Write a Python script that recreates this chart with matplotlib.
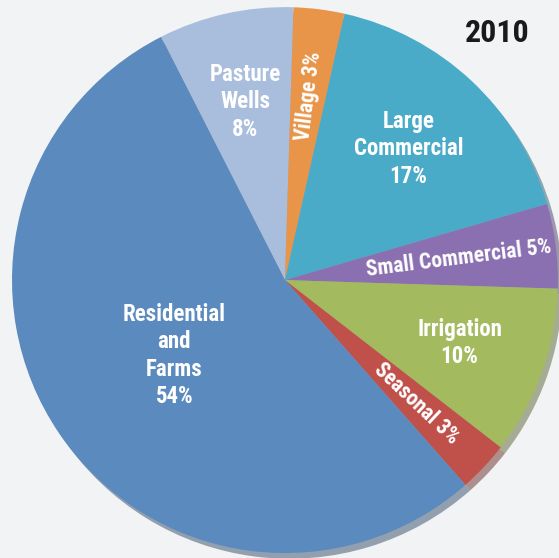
import numpy as np
import matplotlib
matplotlib.use('Agg')
import matplotlib.pyplot as plt
from matplotlib import font_manager

categories = ['Pasture\nWells', 'Village', 'Large\nCommercial', 'Small Commercial',
              'Irrigation', 'Seasonal', 'Residential\nand\nFarms']
shares = [8, 3, 17, 5, 10, 3, 54]
year = '2010'

colors = ['#a9bddc', '#e8954a', '#4aabc8', '#8a70b0', '#a3bb5e', '#c0504a', '#5b8abe']
# label placement: radius factor and whether the text follows the wedge
label_r = [0.67, 0.68, 0.66, 0.64, 0.68, 0.66, 0.49]
rotated = [False, True, False, True, False, True, False]

# look for an upright condensed / narrow bold face, else DejaVu
narrow = None
for f in font_manager.fontManager.ttflist:
    n = (f.name + ' ' + f.fname).lower()
    if ('narrow' in n or 'condensed' in n) and f.weight in (700, 'bold') \
            and f.style == 'normal' and 'italic' not in n:
        narrow = f.fname
        if 'liberation' in n:
            break
if narrow:
    fp = font_manager.FontProperties(fname=narrow)
else:
    fp = font_manager.FontProperties(family='DejaVu Sans', weight='bold', stretch='condensed')

fig = plt.figure(figsize=(5.59, 5.58), dpi=100, facecolor='#f1f3f4')
ax = fig.add_axes([0, 0, 1, 1])
ax.set_facecolor('#f1f3f4')

wedges, _ = ax.pie(shares, colors=colors, startangle=117, counterclock=False,
                   radius=1.0, wedgeprops=dict(linewidth=0),
                   shadow=dict(ox=0.012, oy=-0.015, shade=0.45))

for w, cat, val, r, rot in zip(wedges, categories, shares, label_r, rotated):
    mid = np.deg2rad((w.theta1 + w.theta2) / 2)
    x, y = r * np.cos(mid), r * np.sin(mid)
    if rot:
        ax.text(x, y, f'{cat} {val}%', ha='center', va='center',
                rotation=np.rad2deg(mid), rotation_mode='anchor',
                color='white', fontproperties=fp, fontsize=15.5)
    else:
        ax.text(x, y, f'{cat}\n{val}%', ha='center', va='center', color='white',
                fontproperties=fp, fontsize=16.5, linespacing=1.25)

ax.text(0.947, 0.968, year, transform=ax.transAxes, ha='right', va='top',
        fontproperties=fp, fontsize=23, color='#1a1a1a')

ax.set_xlim(-1.044, 1.004)
ax.set_ylim(-1.018, 1.026)
ax.set_aspect('equal')
ax.axis('off')

fig.savefig('out.png', dpi=100, facecolor=fig.get_facecolor())
